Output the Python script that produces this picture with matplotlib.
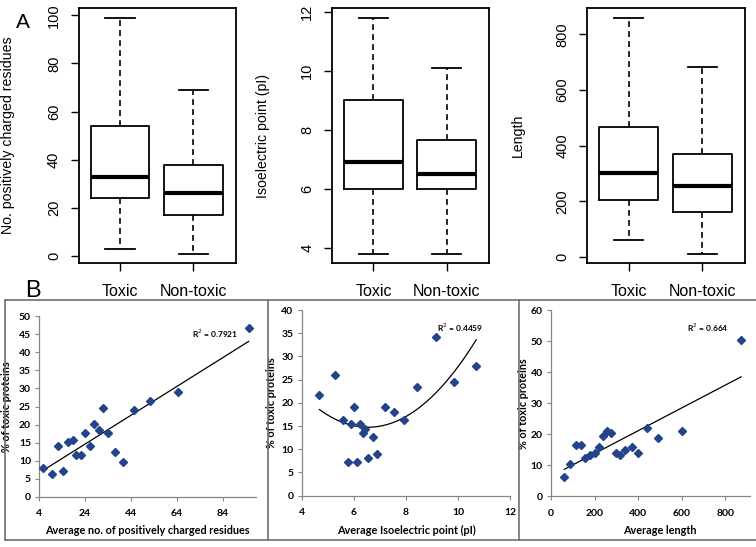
import numpy as np
import matplotlib
matplotlib.use("Agg")
import matplotlib.pyplot as plt
from matplotlib.lines import Line2D

# ---------------- Panel A: box-plot summaries (whislo, q1, median, q3, whishi)
groups = ["Toxic", "Non-toxic"]
charged_stats = [[3, 24, 33, 54, 99], [1, 17, 26, 38, 69]]
pi_stats = [[3.8, 6.0, 6.9, 9.0, 11.8], [3.8, 6.0, 6.5, 7.65, 10.1]]
length_stats = [[62, 207, 303, 468, 860], [13, 164, 257, 370, 683]]
charged_ticks = [0, 20, 40, 60, 80, 100]
pi_ticks = [4, 6, 8, 10, 12]
length_ticks = [0, 200, 400, 600, 800]

# ---------------- Panel B: scatter data
charged_x = [5.7, 9.5, 12.1, 14.4, 16.5, 18.5, 20.0, 22.2, 23.9, 25.9, 27.9, 29.9,
             31.9, 33.9, 36.9, 40.4, 45.3, 52.4, 64.6, 95.3]
charged_y = [8.0, 6.3, 14.2, 7.2, 15.1, 15.8, 11.6, 11.6, 17.6, 14.2, 20.3, 18.6,
             24.6, 17.7, 12.3, 9.8, 23.9, 26.6, 29.1, 46.8]
pi_x = [4.68, 5.29, 5.58, 5.76, 5.89, 6.01, 6.14, 6.24, 6.34, 6.45, 6.56, 6.72,
        6.91, 7.20, 7.53, 7.93, 8.41, 9.17, 9.85, 10.70]
pi_y = [21.6, 26.1, 16.3, 7.25, 15.4, 19.0, 7.25, 15.4, 13.4, 14.4, 8.2, 12.6,
        9.0, 19.0, 18.0, 16.2, 23.5, 34.2, 24.4, 27.9]
len_x = [61, 89, 113, 138, 157, 179, 200, 219, 239, 255, 277, 297, 317, 338,
         370, 399, 442, 489, 599, 872]
len_y = [6.1, 10.5, 16.6, 16.6, 12.3, 13.2, 14.1, 15.9, 19.4, 21.1, 20.5, 14.1,
         13.2, 15.0, 15.9, 14.1, 22.1, 18.7, 21.1, 50.4]
r2_labels = ["R$^2$ = 0.7921", "R$^2$ = 0.4459", "R$^2$ = 0.664"]
fit_degree = [1, 2, 1]
b_xticks = [[4, 24, 44, 64, 84], [4, 6, 8, 10, 12], [0, 200, 400, 600, 800]]
b_yticks = [list(range(0, 51, 5)), list(range(0, 41, 5)), list(range(0, 61, 10))]
b_xlabels = ["Average no. of positively charged residues",
             "Average Isoelectric point (pI)", "Average length"]
b_ylabel = "% of toxic proteins"

W, H = 756, 547
fig = plt.figure(figsize=(W / 100, H / 100), dpi=100)

def fx(px):
    return px / W

def fy(py):
    return 1 - py / H

def add_axes_px(x0, x1, y_top, y_bot):
    return fig.add_axes([fx(x0), fy(y_bot), fx(x1) - fx(x0), fy(y_top) - fy(y_bot)])

TOPFONT = "Liberation Sans"
# ---------------- top row
top_specs = [
    (79.0, 236.0, charged_stats, charged_ticks, "No. positively charged residues", 15),
    (332.3, 489.3, pi_stats, pi_ticks, "Isoelectric point (pI)", 270),
    (587.3, 745.0, length_stats, length_ticks, "Length", 525),
]
for x0, x1, stats, ticks, ylab, ylab_px in top_specs:
    ax = add_axes_px(x0, x1, 8.3, 263)
    bstats = []
    for g, s in zip(groups, stats):
        bstats.append(dict(label=g, whislo=s[0], q1=s[1], med=s[2], q3=s[3],
                           whishi=s[4], fliers=[]))
    ax.bxp(bstats, positions=[1, 2], widths=0.8, capwidths=0.4, showfliers=False,
           boxprops=dict(color="black", lw=1.3),
           whiskerprops=dict(color="black", lw=1.2, linestyle=(0, (3.5, 2.5))),
           capprops=dict(color="black", lw=1.3),
           medianprops=dict(color="black", lw=3.0))
    allv = [v for s in stats for v in s]
    lo, hi = min(allv), max(allv)
    ext = 0.04 * (hi - lo)
    ax.set_ylim(lo - ext, hi + ext)
    ax.set_xlim(0.44, 2.58)
    ax.set_yticks(ticks)
    ax.set_yticklabels([str(t) for t in ticks], rotation=90, va="center",
                       fontsize=10.5, family=TOPFONT)
    ax.set_xticks([1, 2])
    ax.set_xticklabels(groups, fontsize=11.5, family=TOPFONT)
    ax.tick_params(axis="both", length=6, width=1.0, color="black")
    ax.tick_params(axis="y", pad=7)
    ax.tick_params(axis="x", pad=9)
    for sp in ax.spines.values():
        sp.set_linewidth(1.3)
    ax.set_ylabel(ylab, fontsize=10.2, family=TOPFONT)
    ax.yaxis.set_label_coords((ylab_px - x0) / (x1 - x0), 0.5)

fig.text(fx(23), fy(22), "A", fontsize=15, family=TOPFONT, ha="center", va="center")
fig.text(fx(33), fy(291), "B", fontsize=17, family=TOPFONT, ha="center", va="center")

# ---------------- bottom frames
frame_color = "#6e6e6e"
for (xa, ya, xb, yb) in [(5, 300, 756, 300), (5, 540, 756, 540),
                          (5, 300, 5, 540), (268, 300, 268, 540), (519, 300, 519, 540)]:
    fig.add_artist(Line2D([fx(xa), fx(xb)], [fy(ya), fy(yb)], color=frame_color,
                          lw=1.2, transform=fig.transFigure))

# ---------------- bottom scatter panels
BFONT = "Lato"
marker_color = "#23448c"
bot_specs = [
    (39.3, 256.0, 316, 497, charged_x, charged_y, (4, 98.5), (0, 50), 12, 147, (215, 334)),
    (301.7, 510.0, 310, 495.7, pi_x, pi_y, (4, 12), (0, 40), 277, 406, (460, 328)),
    (551.0, 750.0, 310, 496.3, len_x, len_y, (0, 913), (0, 60), 529, 660, (708, 328)),
]
for i, (x0, x1, yt, yb, xs, ys, xl, yl, ylab_px, xlab_px, r2px) in enumerate(bot_specs):
    ax = add_axes_px(x0, x1, yt, yb)
    ax.set_facecolor("none")
    xs = np.asarray(xs, float)
    ys = np.asarray(ys, float)
    coef = np.polyfit(xs, ys, fit_degree[i])
    xx = np.linspace(xs.min(), xs.max(), 200)
    ax.plot(xx, np.polyval(coef, xx), color="black", lw=0.9, zorder=2)
    ax.plot(xs, ys, "D", color=marker_color, ms=4.5, mec=marker_color, zorder=3,
            clip_on=False)
    ax.set_xlim(*xl)
    ax.set_ylim(*yl)
    ax.set_xticks(b_xticks[i])
    ax.set_yticks(b_yticks[i])
    ax.set_xticklabels([str(t) for t in b_xticks[i]], fontsize=7.5, family=BFONT,
                       fontweight="bold")
    ax.set_yticklabels([str(t) for t in b_yticks[i]], fontsize=7.5, family=BFONT,
                       fontweight="bold")
    for s in ["top", "right"]:
        ax.spines[s].set_visible(False)
    for s in ["left", "bottom"]:
        ax.spines[s].set_color("#868686")
        ax.spines[s].set_linewidth(0.9)
    ax.tick_params(axis="both", length=3, width=0.8, color="#868686", pad=3)
    ax.tick_params(axis="x", pad=6)
    ax.set_ylabel(b_ylabel, fontsize=7.8, family=BFONT, fontweight="bold")
    ax.yaxis.set_label_coords((ylab_px - x0) / (x1 - x0), 0.5)
    ax.set_xlabel(b_xlabels[i], fontsize=7.8, family=BFONT, fontweight="bold")
    ax.xaxis.set_label_coords((xlab_px - x0) / (x1 - x0), (yb - 525) / (yb - yt))
    fig.text(fx(r2px[0]), fy(r2px[1]), r2_labels[i], fontsize=6, family=BFONT,
             fontweight="bold", ha="center", va="center")

fig.savefig("out.png", dpi=100)
